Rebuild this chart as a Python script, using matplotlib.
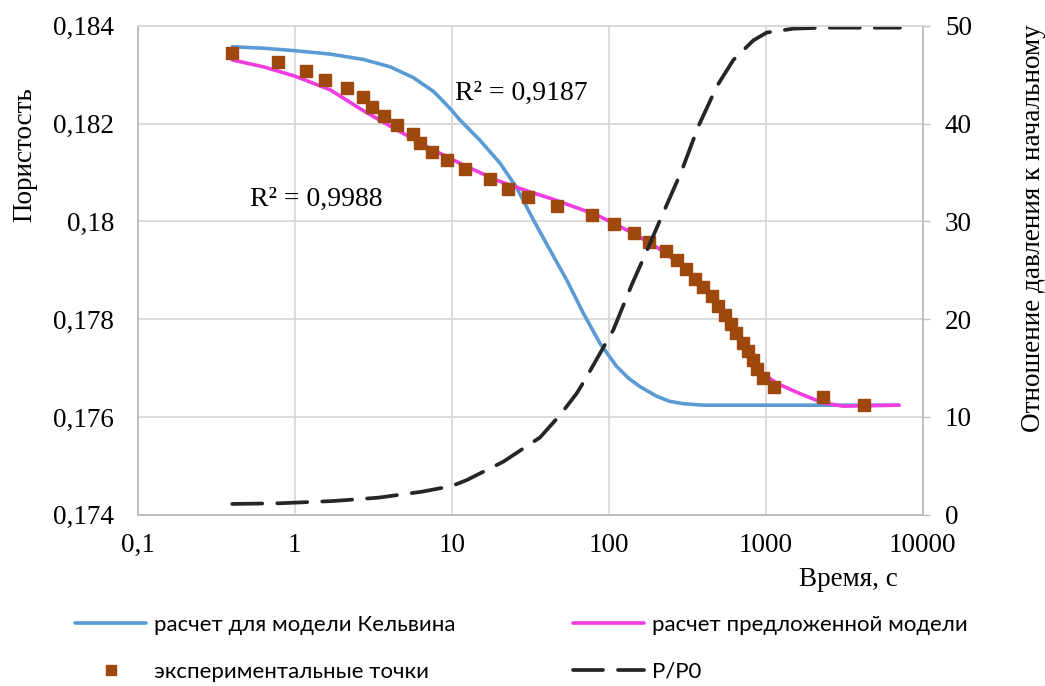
import matplotlib
matplotlib.use("Agg")
import matplotlib.pyplot as plt

# экспериментальные точки: время, с / пористость
t_exp = [0.40, 0.786, 1.186, 1.566, 2.163, 2.735, 3.12, 3.72, 4.50, 5.69,
         6.31, 7.52, 9.37, 12.2, 17.6, 22.9, 30.5, 47.1, 78.6, 108.6,
         145.6, 181.4, 232.8, 273.5, 312.1, 356.1, 400.5, 457, 498.9, 553,
         598.4, 649.7, 716.9, 768.2, 829.8, 884.2, 965.4, 1129.7, 2328, 4246]
por_exp = [0.18344, 0.18325, 0.18307, 0.18288, 0.18272, 0.18254, 0.18233, 0.18215, 0.18196, 0.18178,
           0.18160, 0.18141, 0.18125, 0.18106, 0.18086, 0.18067, 0.18050, 0.18032, 0.18013, 0.17994,
           0.17976, 0.17957, 0.17939, 0.17920, 0.17902, 0.17883, 0.17865, 0.17847, 0.17827, 0.17809,
           0.17791, 0.17771, 0.17752, 0.17734, 0.17716, 0.17697, 0.17679, 0.17661, 0.17641, 0.17624]

# расчет для модели Кельвина
t_kelvin = [0.4, 0.631, 1, 1.68, 2.74, 4.05, 5.69, 7.63, 8.43, 10, 11.3, 15.1, 20.3, 25.9, 33.1,
            42.3, 54, 68.9, 88.1, 112.5, 135, 158, 200, 243, 300, 400, 2300, 7000]
por_kelvin = [0.18357, 0.18354, 0.18349, 0.18342, 0.18331, 0.18316, 0.18294, 0.18266, 0.18252,
              0.18227, 0.18207, 0.18166, 0.18119, 0.18069, 0.18003, 0.17941, 0.17880, 0.17812,
              0.17750, 0.17703, 0.17678, 0.17662, 0.17643, 0.17632, 0.17627, 0.17624, 0.17624,
              0.17624]

# расчет предложенной модели
t_model = [0.4, 0.631, 1, 1.68, 2.74, 4.47, 7.3, 11.9, 19.3, 31.6, 42.5, 84, 144, 225, 330,
           490, 725, 960, 1170, 1640, 2300, 3100, 7070]
por_model = [0.18330, 0.18316, 0.18297, 0.18269, 0.18226, 0.18187, 0.18149, 0.18115, 0.18084,
             0.18060, 0.18047, 0.18013, 0.17975, 0.17938, 0.17894, 0.17832, 0.17750, 0.17689,
             0.17669, 0.17648, 0.17629, 0.17622, 0.17624]

# P/P0
t_p = [0.4, 0.805, 1.76, 3.4, 6.44, 10, 12.5, 21.3, 36.5, 49, 62.5, 70.6, 107, 140, 175, 212, 292,
       372, 488, 622, 720, 834, 1014, 1500, 2317, 7160]
p_ratio = [1.1, 1.17, 1.40, 1.74, 2.35, 2.93, 3.55, 5.42, 7.9, 10.2, 12.4, 13.8, 18.9, 23.5, 27.0,
           30.1, 35.2, 39.7, 43.8, 46.5, 47.5, 48.5, 49.3, 49.7, 49.8, 49.8]

x_ticks = [0.1, 1, 10, 100, 1000, 10000]
x_labels = ["0,1", "1", "10", "100", "1000", "10000"]
y_ticks = [0.174, 0.176, 0.178, 0.18, 0.182, 0.184]
y_labels = ["0,174", "0,176", "0,178", "0,18", "0,182", "0,184"]
y2_ticks = [0, 10, 20, 30, 40, 50]

serif = "Liberation Serif"
fs = 19.5
grid_c = "#D9D9D9"
axis_c = "#BFBFBF"

fig = plt.figure(figsize=(10.45, 6.86), dpi=100)
ax = fig.add_axes([0.1318, 0.2497, 0.7512, 0.7128])
ax2 = ax.twinx()

ax.set_xscale("log")
ax.set_xlim(0.1, 10000)
ax.set_ylim(0.174, 0.184)
ax2.set_ylim(0, 50)

ax.set_xticks(x_ticks)
ax.set_xticklabels(x_labels, fontfamily=serif, fontsize=fs)
ax.minorticks_off()
ax.set_yticks(y_ticks)
ax.set_yticklabels(y_labels, fontfamily=serif, fontsize=fs)
ax2.set_yticks(y2_ticks)
ax2.set_yticklabels([str(v) for v in y2_ticks], fontfamily=serif, fontsize=fs)

ax.grid(True, color=grid_c, linewidth=1.3)
ax.set_axisbelow(True)
ax.tick_params(axis="y", length=0, pad=17)
ax.tick_params(axis="x", length=0, pad=13)
ax2.tick_params(axis="y", length=5, width=1, color=axis_c, pad=11, direction="out")

for a in (ax, ax2):
    a.spines["top"].set_color(grid_c)
    a.spines["left"].set_color(axis_c)
    a.spines["bottom"].set_color(axis_c)
    a.spines["right"].set_color(axis_c)
    for s in a.spines.values():
        s.set_linewidth(1.3)

l_kel, = ax.plot(t_kelvin, por_kelvin, color="#5B9BD5", linewidth=2.6,
                 solid_capstyle="round", solid_joinstyle="round", label="расчет для модели Кельвина")
l_mod, = ax.plot(t_model, por_model, color="#F03CE0", linewidth=2.6,
                 solid_capstyle="round", solid_joinstyle="round", label="расчет предложенной модели")
l_exp, = ax.plot(t_exp, por_exp, linestyle="none", marker="s", markersize=8,
                 color="#9E480E", label="экспериментальные точки")
l_p, = ax2.plot(t_p, p_ratio, color="#262626", linewidth=2.7, dashes=(8, 4),
                dash_capstyle="round", dash_joinstyle="round", label="P/P0")

ax.text(10.5, 0.18262, "R² = 0,9187", fontfamily=serif, fontsize=20, va="center")
ax.text(0.52, 0.18044, "R² = 0,9988", fontfamily=serif, fontsize=20, va="center")

fig.text(25 / 1045, 1 - 155 / 686, "Пористость", rotation=90, ha="center", va="center",
         fontfamily=serif, fontsize=fs)
fig.text(1033 / 1045, 1 - 228 / 686, "Отношение давления к начальному", rotation=90,
         ha="center", va="center", fontfamily=serif, fontsize=fs)
fig.text(848 / 1045, 1 - 580 / 686, "Время, с", ha="center", va="center",
         fontfamily=serif, fontsize=fs)

leg_kw = dict(loc="upper left", frameon=False, ncol=1, borderpad=0, borderaxespad=0,
              handlelength=3.2, handletextpad=0.35, labelspacing=1.2, numpoints=1,
              markerscale=0.85, prop={"family": "Lato", "size": 16})
fig.legend([l_kel, l_exp], [l_kel.get_label(), l_exp.get_label()],
           bbox_to_anchor=(75 / 1045, 1 - 615 / 686), **leg_kw)
fig.legend([l_mod, l_p], [l_mod.get_label(), l_p.get_label()],
           bbox_to_anchor=(573 / 1045, 1 - 615 / 686), **leg_kw)

fig.savefig("out.png", dpi=100)
